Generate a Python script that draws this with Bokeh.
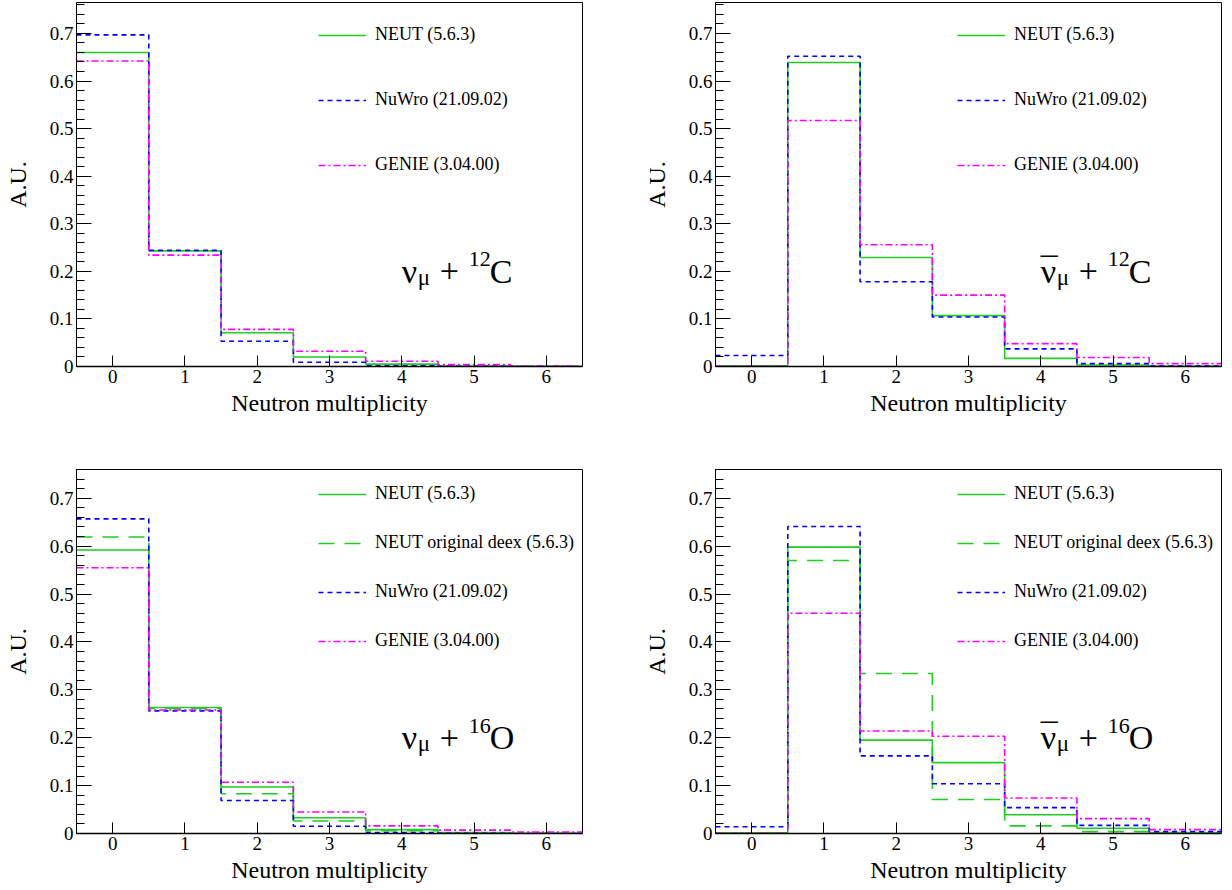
from bokeh.plotting import figure
from bokeh.models import (Range1d, FixedTicker, CustomJSTickFormatter, Legend,
                          LegendItem, Label)
from bokeh.layouts import row, column
from bokeh.embed import file_html
from bokeh.resources import INLINE

# ---------------- data ----------------
multiplicity = [0, 1, 2, 3, 4, 5, 6]
y_ticks = [0, 0.1, 0.2, 0.3, 0.4, 0.5, 0.6, 0.7]
y_minor = [round(0.02 * i, 2) for i in range(39)]

# nu_mu + 12C
neut_numu_c = [0.660, 0.243, 0.071, 0.020, 0.005, 0.001, 0.0003]
nuwro_numu_c = [0.697, 0.244, 0.053, 0.009, 0.0015, 0.0004, 0.0001]
genie_numu_c = [0.642, 0.234, 0.078, 0.032, 0.011, 0.004, 0.001]

# anti-nu_mu + 12C
neut_anumu_c = [0.0015, 0.639, 0.229, 0.107, 0.017, 0.003, 0.0005]
nuwro_anumu_c = [0.023, 0.652, 0.178, 0.104, 0.037, 0.006, 0.001]
genie_anumu_c = [0.0005, 0.517, 0.256, 0.150, 0.048, 0.019, 0.006]

# nu_mu + 16O
neut_numu_o = [0.592, 0.263, 0.097, 0.033, 0.008, 0.002, 0.0005]
neutdeex_numu_o = [0.619, 0.261, 0.083, 0.026, 0.006, 0.0015, 0.0005]
nuwro_numu_o = [0.657, 0.256, 0.069, 0.015, 0.002, 0.0005, 0.0001]
genie_numu_o = [0.555, 0.258, 0.107, 0.045, 0.016, 0.007, 0.003]

# anti-nu_mu + 16O
neut_anumu_o = [0.0015, 0.598, 0.195, 0.148, 0.039, 0.011, 0.002]
neutdeex_anumu_o = [0.001, 0.570, 0.334, 0.071, 0.016, 0.004, 0.001]
nuwro_anumu_o = [0.014, 0.641, 0.162, 0.104, 0.054, 0.017, 0.004]
genie_anumu_o = [0.0005, 0.460, 0.214, 0.203, 0.074, 0.031, 0.008]

lbl_neut = "NEUT (5.6.3)"
lbl_deex = "NEUT original deex (5.6.3)"
lbl_nuwro = "NuWro (21.09.02)"
lbl_genie = "GENIE (3.04.00)"

GREEN = "#22cc22"
BLUE = "#0000ff"
MAGENTA = "#ff00ff"
FONT = "Liberation Serif, Times New Roman, serif"

STY_NEUT = dict(color=GREEN, dash="solid")
STY_DEEX = dict(color=GREEN, dash="16 10")
STY_NUWRO = dict(color=BLUE, dash="5 4")
STY_GENIE = dict(color=MAGENTA, dash="7 3 2 3")


def edges(centers):
    return [c - 0.5 for c in centers] + [centers[-1] + 0.5]


def extend(vals):
    return list(vals) + [vals[-1]]


def panel(series, anti, mass, sym, top_row, left_col):
    p = figure(frame_width=506, frame_height=364,
               x_range=Range1d(-0.5, 6.5),
               y_range=Range1d(0, 0.765 if top_row else 0.76),
               output_backend="svg", toolbar_location=None,
               min_border_left=76 if left_col else 95,
               min_border_right=38 if left_col else 8,
               min_border_top=2 if top_row else 43,
               min_border_bottom=60 if top_row else 55,
               background_fill_color="white", border_fill_color="white")
    p.xgrid.visible = False
    p.ygrid.visible = False
    p.outline_line_color = "black"
    p.outline_line_width = 1

    # x axis
    xa = p.xaxis[0]
    xa.ticker = FixedTicker(ticks=multiplicity)
    xa.major_tick_in = 11
    xa.major_tick_out = 0
    xa.minor_tick_in = 0
    xa.minor_tick_out = 0
    xa.axis_line_width = 1.5
    xa.major_tick_line_width = 1
    xa.major_label_text_font = FONT
    xa.major_label_text_font_size = "19px"
    xa.major_label_text_color = "black"
    xa.major_label_standoff = 3
    xa.axis_label = "Neutron multiplicity"
    xa.axis_label_text_font = FONT
    xa.axis_label_text_font_size = "24px"
    xa.axis_label_text_font_style = "normal"
    xa.axis_label_text_color = "black"
    xa.axis_label_standoff = 4

    # y axis
    ya = p.yaxis[0]
    ya.ticker = FixedTicker(ticks=y_ticks, minor_ticks=y_minor)
    ya.formatter = CustomJSTickFormatter(
        code="return tick == 0 ? '0' : tick.toFixed(1);")
    ya.major_tick_in = 15
    ya.major_tick_out = 0
    ya.minor_tick_in = 8
    ya.minor_tick_out = 0
    ya.axis_line_width = 1
    ya.major_label_text_font = FONT
    ya.major_label_text_font_size = "19px"
    ya.major_label_text_color = "black"
    ya.major_label_standoff = 3
    ya.axis_label = "A.U."
    ya.axis_label_text_font = FONT
    ya.axis_label_text_font_size = "24px"
    ya.axis_label_text_font_style = "normal"
    ya.axis_label_text_color = "black"
    ya.axis_label_standoff = 16

    items = []
    xe = edges(multiplicity)
    for label, vals, sty in series:
        r = p.step(x=xe, y=extend(vals), mode="after",
                   line_color=sty["color"], line_width=1.6,
                   line_dash=sty["dash"])
        items.append(LegendItem(label=label, renderers=[r]))

    n = len(series)
    if n == 3:
        spacing, loc = 44, (242, 191)
    else:
        spacing, loc = 28, (242, 182)
    leg = Legend(items=items, location=loc, spacing=spacing,
                 glyph_width=48, glyph_height=20, label_height=20,
                 label_standoff=9, padding=0, margin=0,
                 border_line_alpha=0, background_fill_alpha=0,
                 label_text_font=FONT, label_text_font_size="18px",
                 label_text_color="black")
    p.add_layout(leg)

    # reaction annotation
    ax, ay = 4.0, 0.2

    def lab(text, dx, dy, size):
        p.add_layout(Label(x=ax, y=ay, x_offset=dx, y_offset=dy, text=text,
                           text_font=FONT, text_font_size=size,
                           text_color="black", text_baseline="alphabetic",
                           text_align="left"))

    lab("\u03bd", 0, 0, "34px")
    if anti:
        lab("\u00af", 0, 2, "34px")
    lab("\u03bc", 16, -6, "23px")
    lab("+", 38, 0, "34px")
    lab(mass, 67, 12, "22px")
    lab(sym, 88, 0, "34px")
    return p


p1 = panel([(lbl_neut, neut_numu_c, STY_NEUT),
            (lbl_nuwro, nuwro_numu_c, STY_NUWRO),
            (lbl_genie, genie_numu_c, STY_GENIE)],
           False, "12", "C", True, True)
p2 = panel([(lbl_neut, neut_anumu_c, STY_NEUT),
            (lbl_nuwro, nuwro_anumu_c, STY_NUWRO),
            (lbl_genie, genie_anumu_c, STY_GENIE)],
           True, "12", "C", True, False)
p3 = panel([(lbl_neut, neut_numu_o, STY_NEUT),
            (lbl_deex, neutdeex_numu_o, STY_DEEX),
            (lbl_nuwro, nuwro_numu_o, STY_NUWRO),
            (lbl_genie, genie_numu_o, STY_GENIE)],
           False, "16", "O", False, True)
p4 = panel([(lbl_neut, neut_anumu_o, STY_NEUT),
            (lbl_deex, neutdeex_anumu_o, STY_DEEX),
            (lbl_nuwro, nuwro_anumu_o, STY_NUWRO),
            (lbl_genie, genie_anumu_o, STY_GENIE)],
           True, "16", "O", False, False)

layout = column(row(p1, p2), row(p3, p4))
open("out.html", "w").write(file_html(layout, INLINE))
